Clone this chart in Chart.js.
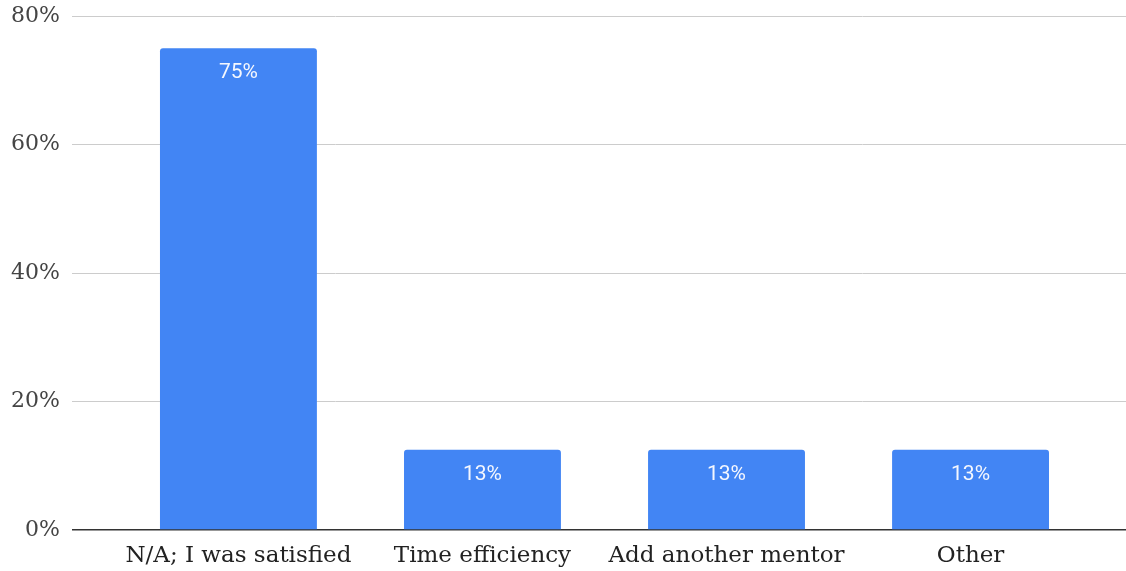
<!DOCTYPE html>
<html>
<head>
<meta charset="utf-8">
<script src="https://cdn.jsdelivr.net/npm/chart.js@4/dist/chart.umd.min.js"></script>
<style>
  html, body { margin: 0; padding: 0; background: #fff; }
  #wrap { width: 1126px; height: 571px; }
</style>
</head>
<body>
<div id="wrap"><canvas id="chart" width="1126" height="571"></canvas></div>
<script>
// categorias e valores (%)
var categories = ['N/A; I was satisfied', 'Time efficiency', 'Add another mentor', 'Other'];
var values = [75, 12.5, 12.5, 12.5];
var yTicks = [0, 20, 40, 60, 80];

// rótulos dentro das barras
var barLabels = {
    id: 'barLabels',
    afterDatasetsDraw: function (chart) {
        var ctx = chart.ctx;
        var meta = chart.getDatasetMeta(0);
        ctx.save();
        ctx.fillStyle = '#f4f7fe';
        ctx.font = '21px Roboto';
        ctx.textAlign = 'center';
        ctx.textBaseline = 'middle';
        meta.data.forEach(function (bar, i) {
            ctx.fillText(Math.round(values[i]) + '%', bar.x, bar.y + 25);
        });
        ctx.restore();
    }
};

var ctx = document.getElementById('chart').getContext('2d');
new Chart(ctx, {
    type: 'bar',
    data: {
        datasets: [{
            data: values.map(function (v, i) { return { x: i, y: v }; }),
            backgroundColor: '#4285f4',
            borderRadius: { topLeft: 3, topRight: 3 },
            borderSkipped: 'bottom',
            categoryPercentage: 1,
            barPercentage: 0.643
        }]
    },
    options: {
        responsive: false,
        animation: false,
        layout: { padding: { top: 16, right: 0, left: 0, bottom: 0 } },
        plugins: {
            legend: { display: false },
            tooltip: { enabled: false }
        },
        scales: {
            x: {
                type: 'linear',
                offset: false,
                min: -0.682,
                max: 3.637,
                grid: { display: false },
                border: { display: false },
                afterFit: function (s) { s.height = 41; s.paddingLeft = 0; s.paddingRight = 0; },
                ticks: {
                    stepSize: 1,
                    includeBounds: false,
                    autoSkip: false,
                    maxRotation: 0,
                    padding: 4,
                    color: '#222',
                    font: { family: 'DejaVu Serif', size: 23 },
                    callback: function (v) { return categories[v] || ''; }
                }
            },
            y: {
                min: 0,
                max: 80,
                afterFit: function (s) { s.width = 72; s.paddingTop = 0; s.paddingBottom = 0; },
                afterBuildTicks: function (s) { s.ticks = yTicks.map(function (v) { return { value: v }; }); },
                border: { display: false },
                grid: {
                    drawTicks: false,
                    color: function (c) { return c.tick && c.tick.value === 0 ? '#333' : '#ccc'; },
                    lineWidth: function (c) { return c.tick && c.tick.value === 0 ? 1.5 : 1; }
                },
                ticks: {
                    padding: 12,
                    color: '#444',
                    font: { family: 'DejaVu Serif', size: 22 },
                    callback: function (v) { return v + '%'; }
                }
            }
        }
    },
    plugins: [barLabels]
});
</script>
</body>
</html>
